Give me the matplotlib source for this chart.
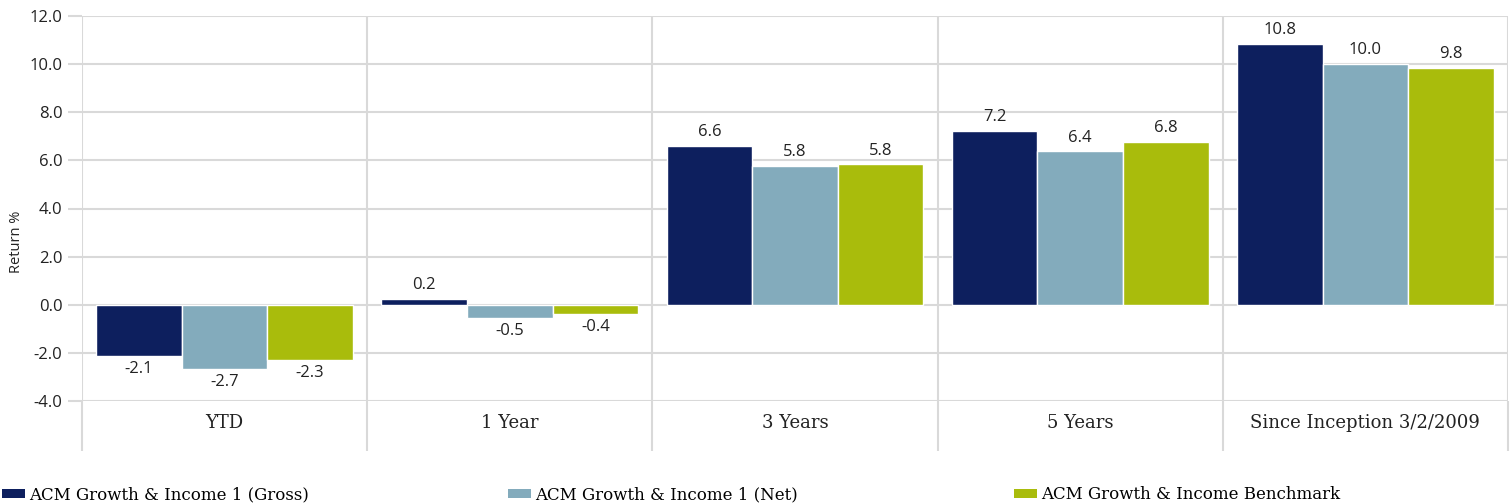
import numpy as np
import matplotlib
matplotlib.use("Agg")
import matplotlib.pyplot as plt
from matplotlib.patches import Patch

# データ
categories = ["YTD", "1 Year", "3 Years", "5 Years", "Since Inception 3/2/2009"]
series_names = ["ACM Growth & Income 1 (Gross)", "ACM Growth & Income 1 (Net)",
                "ACM Growth & Income Benchmark"]
gross = [-2.12, 0.25, 6.60, 7.23, 10.84]
net = [-2.66, -0.54, 5.77, 6.38, 10.01]
bench = [-2.28, -0.37, 5.83, 6.77, 9.84]
colors = ["#0d1f5e", "#83abbc", "#a9bc0c"]
y_ticks = [-4, -2, 0, 2, 4, 6, 8, 10, 12]

grid_c = "#d9d9d9"
serif = "DejaVu Serif"
sans = "Open Sans"

fig = plt.figure(figsize=(15.1, 5.04), dpi=100)
ax = fig.add_axes([82 / 1510, 1 - 401 / 504, 1426 / 1510, 385 / 504])

x = np.arange(len(categories))
w = 0.3
for i, (vals, c) in enumerate(zip([gross, net, bench], colors)):
    bars = ax.bar(x + (i - 1) * w, vals, w, color=c, edgecolor="white", linewidth=1, zorder=3)
    ax.bar_label(bars, labels=[f"{v:.1f}" for v in vals], padding=4,
                 fontsize=12, fontfamily=sans, color="#222222")

ax.set_xlim(-0.5, 4.5)
ax.set_ylim(-4, 12)
ax.set_yticks(y_ticks)
ax.set_yticklabels([f"{v:.1f}" for v in y_ticks], fontsize=12, fontfamily=sans, color="#222222")

# 区切り線（カテゴリ境界）
ax.set_xticks(np.arange(-0.5, 5.0, 1.0))
ax.set_xticklabels([])
ax.set_xticks(x, minor=True)
ax.set_xticklabels(categories, minor=True, fontsize=13, fontfamily=serif, color="#222222")
ax.tick_params(axis="x", which="major", length=36, width=1.5, color=grid_c, direction="out")
ax.tick_params(axis="x", which="minor", length=0, pad=9)
ax.tick_params(axis="y", length=10, width=1.5, color=grid_c, pad=4)

ax.grid(True, which="major", color=grid_c, linewidth=1.5, zorder=0)
ax.set_axisbelow(True)
for s in ax.spines.values():
    s.set_visible(False)

fig.text(17 / 1510, 1 - 242 / 504, "Return %", rotation=90, ha="center", va="center",
         fontsize=10.5, fontfamily=sans, color="#222222")

# 凡例
leg_x = [2 / 1510, 508 / 1510, 1014 / 1510]
for name, c, lx in zip(series_names, colors, leg_x):
    fig.legend(handles=[Patch(facecolor=c)], labels=[name], loc="lower left",
               bbox_to_anchor=(lx, 0.002), frameon=False, handlelength=1.4,
               handleheight=0.45, handletextpad=0.25, borderaxespad=0, borderpad=0,
               prop={"family": serif, "size": 12})

fig.savefig("out.png", dpi=100)
